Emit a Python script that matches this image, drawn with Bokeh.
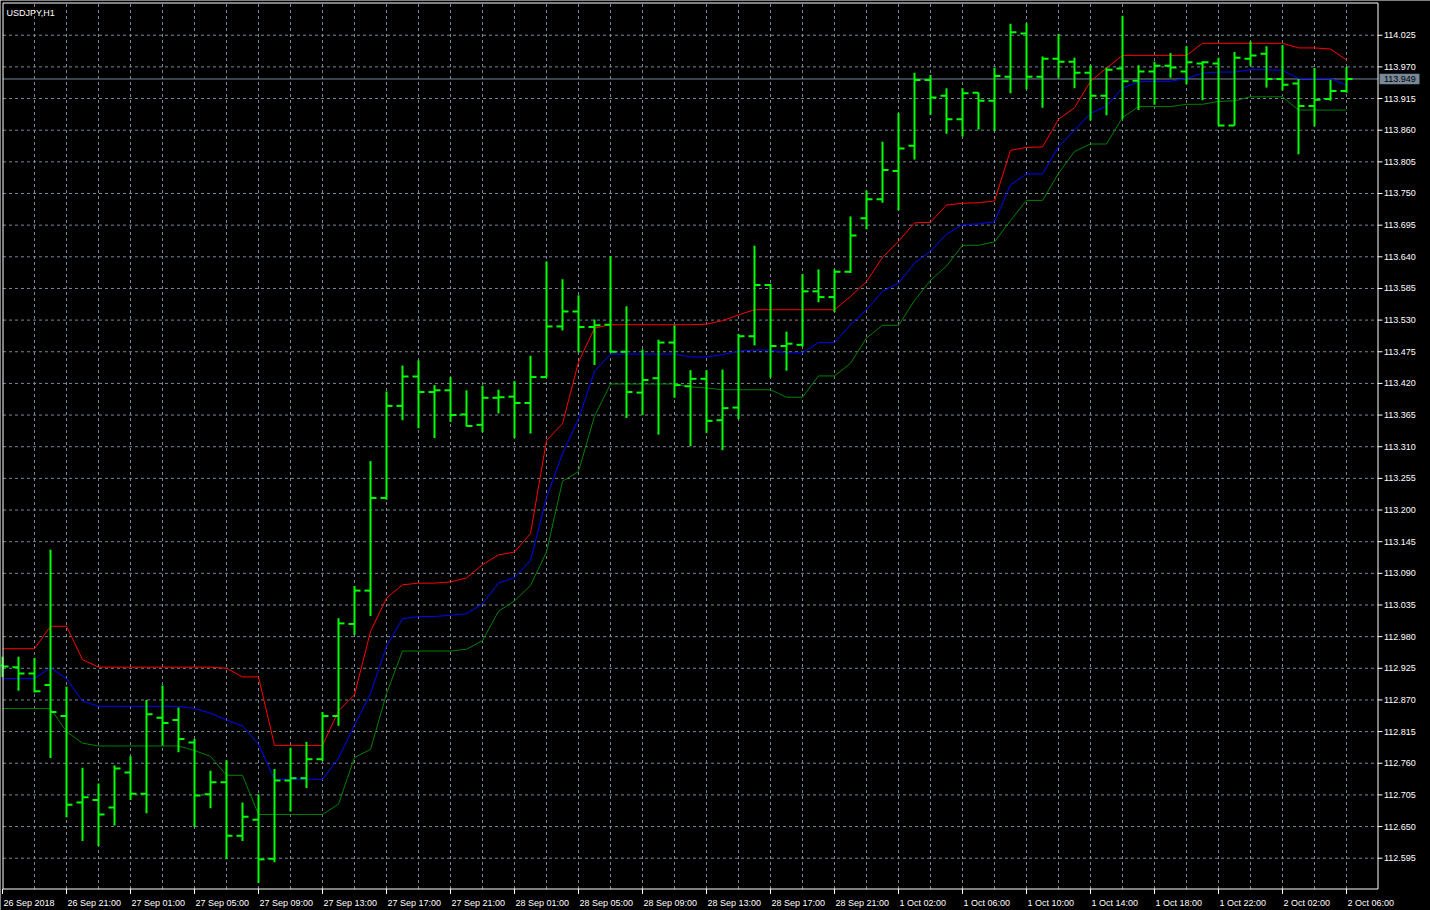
import numpy as np
from bokeh.plotting import figure
from bokeh.models import Range1d
from bokeh.embed import file_html
from bokeh.resources import INLINE
from bokeh.core.properties import value

# ---------------- data ----------------
symbol = "USDJPY,H1"
last_price = 113.949

opens = [112.930, 112.927, 112.916, 112.896, 112.842, 112.692, 112.696, 112.683, 112.744, 112.707,
         112.839, 112.835, 112.796, 112.706, 112.727, 112.634, 112.662, 112.594, 112.730, 112.734,
         112.767, 112.842, 113.002, 113.060, 113.221, 113.381, 113.432, 113.405, 113.408, 113.366,
         113.348, 113.395, 113.397, 113.386, 113.431, 113.519, 113.545, 113.518, 113.522, 113.475,
         113.404, 113.429, 113.491, 113.415, 113.428, 113.356, 113.378, 113.502, 113.591, 113.485,
         113.487, 113.580, 113.570, 113.614, 113.707, 113.740, 113.789, 113.833, 113.947, 113.920,
         113.879, 113.925, 113.911, 113.953, 114.028, 113.953, 113.984, 113.979, 113.960, 113.920,
         113.967, 113.946, 113.962, 113.972, 113.962, 113.976, 113.976, 113.868, 113.984, 113.993,
         113.949, 113.941, 113.902, 113.914, 113.928]
highs = [112.945, 112.945, 112.943, 113.131, 112.893, 112.752, 112.725, 112.756, 112.772, 112.870,
         112.895, 112.857, 112.802, 112.747, 112.765, 112.692, 112.706, 112.750, 112.787, 112.797,
         112.849, 113.012, 113.068, 113.285, 113.406, 113.451, 113.460, 113.417, 113.431, 113.408,
         113.416, 113.409, 113.424, 113.468, 113.632, 113.601, 113.573, 113.531, 113.641, 113.554,
         113.479, 113.496, 113.521, 113.443, 113.443, 113.444, 113.506, 113.659, 113.593, 113.510,
         113.610, 113.618, 113.618, 113.710, 113.755, 113.840, 113.890, 113.960, 113.956, 113.933,
         113.933, 113.925, 113.968, 114.045, 114.046, 113.988, 114.027, 113.986, 113.973, 113.969,
         114.059, 113.973, 113.979, 113.994, 114.006, 113.980, 113.986, 113.996, 114.014, 114.006,
         114.008, 113.949, 113.968, 113.947, 113.970]
lows = [112.910, 112.886, 112.883, 112.769, 112.666, 112.625, 112.616, 112.652, 112.696, 112.673,
        112.791, 112.779, 112.649, 112.682, 112.593, 112.625, 112.552, 112.588, 112.676, 112.717,
        112.764, 112.825, 112.983, 113.016, 113.218, 113.356, 113.342, 113.325, 113.353, 113.345,
        113.335, 113.368, 113.325, 113.333, 113.431, 113.512, 113.474, 113.452, 113.474, 113.360,
        113.365, 113.331, 113.395, 113.311, 113.334, 113.304, 113.358, 113.486, 113.430, 113.442,
        113.484, 113.561, 113.544, 113.612, 113.688, 113.734, 113.721, 113.809, 113.887, 113.854,
        113.849, 113.861, 113.859, 113.924, 113.931, 113.899, 113.951, 113.933, 113.877, 113.886,
        113.880, 113.895, 113.904, 113.951, 113.940, 113.912, 113.868, 113.868, 113.972, 113.934,
        113.929, 113.818, 113.867, 113.911, 113.925]
closes = [112.928, 112.916, 112.885, 112.849, 112.688, 112.701, 112.671, 112.751, 112.707, 112.845,
          112.830, 112.802, 112.704, 112.727, 112.634, 112.667, 112.593, 112.730, 112.734, 112.767,
          112.842, 113.003, 113.060, 113.221, 113.381, 113.432, 113.405, 113.408, 113.365, 113.346,
          113.395, 113.396, 113.386, 113.431, 113.519, 113.545, 113.518, 113.521, 113.475, 113.405,
          113.426, 113.491, 113.417, 113.428, 113.355, 113.377, 113.502, 113.591, 113.485, 113.489,
          113.580, 113.570, 113.614, 113.677, 113.740, 113.791, 113.828, 113.947, 113.917, 113.879,
          113.924, 113.911, 113.954, 114.030, 113.953, 113.984, 113.979, 113.960, 113.920, 113.965,
          113.945, 113.962, 113.972, 113.969, 113.978, 113.978, 113.868, 113.986, 113.990, 113.949,
          113.939, 113.902, 113.913, 113.928, 113.949]

upper_band = [112.959, 112.959, 112.959, 112.998, 112.998, 112.940, 112.927, 112.927, 112.927, 112.927,
              112.927, 112.927, 112.927, 112.927, 112.925, 112.910, 112.910, 112.791, 112.791, 112.791,
              112.791, 112.851, 112.879, 112.989, 113.047, 113.070, 113.073, 113.073, 113.075, 113.082,
              113.105, 113.122, 113.127, 113.159, 113.321, 113.350, 113.457, 113.516, 113.522, 113.522,
              113.522, 113.522, 113.522, 113.522, 113.523, 113.529, 113.539, 113.548, 113.548, 113.548,
              113.548, 113.548, 113.548, 113.571, 113.597, 113.639, 113.667, 113.699, 113.700, 113.730,
              113.733, 113.734, 113.737, 113.825, 113.830, 113.831, 113.879, 113.899, 113.945, 113.968,
              113.990, 113.990, 113.990, 113.990, 113.990, 114.011, 114.011, 114.011, 114.011, 114.011,
              114.011, 114.003, 114.003, 114.001, 113.982]
middle_band = [112.907, 112.907, 112.907, 112.926, 112.907, 112.868, 112.859, 112.859, 112.859, 112.859,
               112.859, 112.859, 112.855, 112.847, 112.835, 112.825, 112.793, 112.732, 112.732, 112.732,
               112.732, 112.769, 112.826, 112.881, 112.963, 113.011, 113.015, 113.015, 113.017, 113.020,
               113.037, 113.073, 113.083, 113.112, 113.222, 113.298, 113.358, 113.441, 113.471, 113.471,
               113.471, 113.471, 113.471, 113.466, 113.466, 113.470, 113.476, 113.478, 113.478, 113.473,
               113.473, 113.491, 113.491, 113.522, 113.548, 113.580, 113.594, 113.629, 113.650, 113.679,
               113.696, 113.697, 113.701, 113.765, 113.784, 113.784, 113.831, 113.860, 113.889, 113.902,
               113.933, 113.944, 113.945, 113.945, 113.950, 113.959, 113.961, 113.961, 113.965, 113.965,
               113.964, 113.950, 113.950, 113.950, 113.938]
lower_band = [112.855, 112.855, 112.855, 112.855, 112.815, 112.795, 112.790, 112.790, 112.790, 112.790,
              112.790, 112.790, 112.782, 112.772, 112.739, 112.739, 112.671, 112.671, 112.671, 112.671,
              112.671, 112.689, 112.770, 112.784, 112.881, 112.955, 112.955, 112.955, 112.955, 112.958,
              112.973, 113.024, 113.042, 113.069, 113.127, 113.250, 113.267, 113.363, 113.419, 113.419,
              113.419, 113.419, 113.419, 113.414, 113.412, 113.409, 113.409, 113.409, 113.409, 113.396,
              113.396, 113.433, 113.433, 113.455, 113.499, 113.521, 113.521, 113.564, 113.599, 113.624,
              113.660, 113.660, 113.666, 113.703, 113.738, 113.738, 113.785, 113.823, 113.836, 113.836,
              113.882, 113.901, 113.901, 113.901, 113.905, 113.905, 113.910, 113.911, 113.918, 113.918,
              113.918, 113.895, 113.895, 113.895, 113.895]

time_label_bars = [0, 4, 8, 12, 16, 20, 24, 28, 32, 36, 40, 44, 48, 52, 56, 60, 64, 68, 72, 76, 80, 84]
time_labels = ["26 Sep 2018", "26 Sep 21:00", "27 Sep 01:00", "27 Sep 05:00", "27 Sep 09:00",
               "27 Sep 13:00", "27 Sep 17:00", "27 Sep 21:00", "28 Sep 01:00", "28 Sep 05:00",
               "28 Sep 09:00", "28 Sep 13:00", "28 Sep 17:00", "28 Sep 21:00", "1 Oct 02:00",
               "1 Oct 06:00", "1 Oct 10:00", "1 Oct 14:00", "1 Oct 18:00", "1 Oct 22:00",
               "2 Oct 02:00", "2 Oct 06:00"]
price_ticks = [112.595, 112.650, 112.705, 112.760, 112.815, 112.870, 112.925, 112.980, 113.035,
               113.090, 113.145, 113.200, 113.255, 113.310, 113.365, 113.420, 113.475, 113.530,
               113.585, 113.640, 113.695, 113.750, 113.805, 113.860, 113.915, 113.970, 114.025]
price_tick_labels = ["%.3f" % t for t in price_ticks]
x_grid_bars = list(range(2, 86, 2))

# ---------------- layout / styling ----------------
FONT = "Liberation Sans"
FS = "9px"
BAR_COLOR = "#00ff00"
GRID_COLOR = "#778899"
FIG_W, FIG_H = 1430, 910
PXB = 16.0            # pixels per bar
PXY = 575.5           # pixels per price unit
BAR0_PX = 2.0         # pixel x of the first bar
REF_PRICE, REF_PX = 112.595, 857.7   # a price and its pixel row

def dx(px): return px / PXB
def dy(px): return px / PXY

xs = -BAR0_PX / PXB
xe = xs + FIG_W / PXB
ye = REF_PRICE + REF_PX / PXY
ys = ye - FIG_H / PXY

def xat(px): return xs + px / PXB      # bar units at pixel column
def yat(px): return ye - px / PXY      # price at pixel row

CX0, CX1 = xat(2.5), xat(1377.5)   # chart frame (left border, price-axis line)
CY1, CY0 = yat(2.5), yat(888.5)    # chart frame (top border, bottom border)

p = figure(width=FIG_W, height=FIG_H, title=None,
           x_range=Range1d(xs, xe), y_range=Range1d(ys, ye),
           output_backend="svg", toolbar_location=None,
           x_axis_location=None, y_axis_location=None,
           background_fill_color="black", border_fill_color="black",
           min_border=0, outline_line_color=None)
p.grid.visible = False

# grid
p.segment(x0=CX0, x1=CX1, y0=price_ticks, y1=price_ticks,
          line_color=GRID_COLOR, line_dash="3 3", line_width=1)
p.segment(x0=x_grid_bars, x1=x_grid_bars, y0=CY0, y1=CY1,
          line_color=GRID_COLOR, line_dash="3 3", line_width=1)

# current price line
p.segment(x0=CX0, x1=CX1, y0=last_price, y1=last_price, line_color=GRID_COLOR, line_width=1)

idx = np.arange(len(opens), dtype=float)
tick_len = dx(6)

# bands (drawn beneath the bars)
p.line(idx, upper_band, line_color="#ff0000", line_width=1)
p.line(idx, middle_band, line_color="#0000ff", line_width=1)
p.line(idx, lower_band, line_color="#008000", line_width=1)

# OHLC bars
p.segment(x0=idx, y0=lows, x1=idx, y1=highs, line_color=BAR_COLOR, line_width=2)
p.segment(x0=idx - tick_len, y0=opens, x1=idx, y1=opens, line_color=BAR_COLOR, line_width=2)
p.segment(x0=idx, y0=closes, x1=idx + tick_len, y1=closes, line_color=BAR_COLOR, line_width=2)

# chart border (left, top, bottom) and price-axis line (right)
p.segment(x0=[CX0, CX0, CX0, CX1], x1=[CX0, CX1, CX1, CX1],
          y0=[CY0, CY1, CY0, CY0], y1=[CY1, CY1, CY0, CY1],
          line_color="white", line_width=1)

# price axis ticks and labels
p.segment(x0=CX1, x1=CX1 + dx(4.5), y0=price_ticks, y1=price_ticks, line_color="white", line_width=1)
p.text(x=CX1 + dx(6), y=price_ticks, text=price_tick_labels,
       text_color="white", text_font=value(FONT), text_font_size=FS,
       text_align="left", text_baseline="middle")

# current price tag
p.quad(left=CX1 + dx(1.5), right=CX1 + dx(41.5),
       bottom=last_price - dy(5.3), top=last_price + dy(5.3),
       fill_color=GRID_COLOR, line_color=None)
p.text(x=CX1 + dx(6), y=last_price, text=["%.3f" % last_price],
       text_color="black", text_font=value(FONT), text_font_size=FS,
       text_align="left", text_baseline="middle")

# time axis ticks and labels
p.segment(x0=time_label_bars, x1=time_label_bars, y0=CY0, y1=CY0 - dy(5),
          line_color="white", line_width=1)
p.text(x=[b + dx(1) for b in time_label_bars], y=yat(902.5), text=time_labels,
       text_color="white", text_font=value(FONT), text_font_size=FS,
       text_align="left", text_baseline="alphabetic")

# symbol caption
p.text(x=[xat(6)], y=[yat(12.5)], text=[symbol],
       text_color="white", text_font=value(FONT), text_font_size=FS,
       text_align="left", text_baseline="alphabetic")

open("out.html", "w").write(file_html(p, INLINE))
